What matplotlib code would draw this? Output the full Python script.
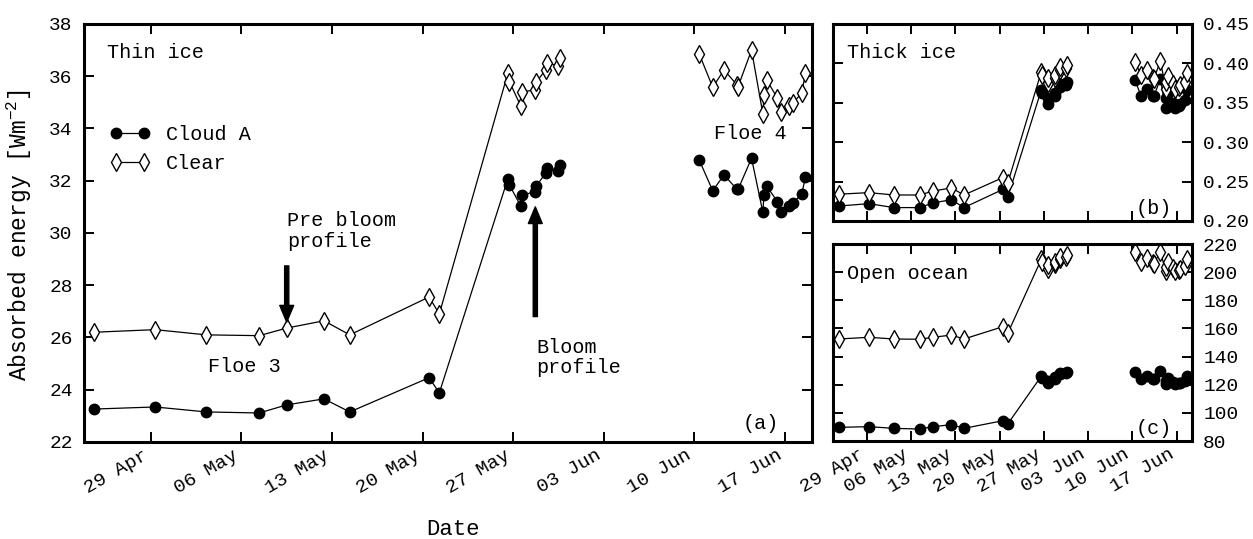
import matplotlib
matplotlib.use("Agg")
import matplotlib.pyplot as plt
import matplotlib.dates as mdates
import matplotlib.ticker as mticker
import pandas as pd

plt.rcParams['font.family'] = ['Liberation Mono', 'DejaVu Sans']
plt.rcParams['mathtext.default'] = 'regular'

# ---------------- data ----------------
dates_f3 = ['2015-04-24 14:00', '2015-04-29 08:00', '2015-05-03 07:00', '2015-05-07 09:00',
            '2015-05-09 12:00', '2015-05-12 09:00', '2015-05-14 09:00', '2015-05-20 12:00',
            '2015-05-21 07:00',
            '2015-05-26 14:00', '2015-05-26 17:00', '2015-05-27 14:00', '2015-05-27 17:00',
            '2015-05-28 17:00', '2015-05-28 19:00', '2015-05-29 12:00', '2015-05-29 14:00',
            '2015-05-30 12:00', '2015-05-30 14:00']
dates_f4 = ['2015-06-10 09:00', '2015-06-11 10:00', '2015-06-12 07:00', '2015-06-13 07:00',
            '2015-06-13 09:00', '2015-06-14 10:00', '2015-06-15 07:00', '2015-06-15 09:00',
            '2015-06-15 14:00', '2015-06-16 10:00', '2015-06-16 17:00', '2015-06-17 07:00',
            '2015-06-17 14:00', '2015-06-18 07:00', '2015-06-18 14:00']

thin_cloud_f3 = [23.26, 23.34, 23.15, 23.11, 23.42, 23.65, 23.15, 24.46, 23.88,
                 32.07, 31.84, 31.03, 31.45, 31.58, 31.81, 32.28, 32.49, 32.38, 32.61]
thin_clear_f3 = [26.20, 26.30, 26.10, 26.07, 26.36, 26.64, 26.10, 27.55, 26.90,
                 36.11, 35.79, 34.86, 35.41, 35.47, 35.78, 36.24, 36.52, 36.39, 36.69]
thin_cloud_f4 = [32.79, 31.62, 32.22, 31.67, 31.67, 32.86, 30.79, 31.45, 31.80, 31.20,
                 30.82, 31.03, 31.14, 31.48, 32.15]
thin_clear_f4 = [36.85, 35.58, 36.24, 35.67, 35.60, 37.00, 34.56, 35.28, 35.86, 35.16,
                 34.62, 34.87, 34.96, 35.35, 36.11]

thick_cloud_f3 = [0.219, 0.222, 0.217, 0.217, 0.223, 0.227, 0.217, 0.240, 0.230,
                  0.366, 0.362, 0.349, 0.356, 0.358, 0.362, 0.370, 0.374, 0.372, 0.376]
thick_clear_f3 = [0.234, 0.236, 0.233, 0.233, 0.238, 0.242, 0.233, 0.255, 0.248,
                  0.389, 0.385, 0.375, 0.381, 0.382, 0.385, 0.392, 0.396, 0.394, 0.398]
thick_cloud_f4 = [0.379, 0.358, 0.368, 0.358, 0.358, 0.380, 0.343, 0.356, 0.362, 0.350,
                  0.343, 0.346, 0.348, 0.354, 0.366]
thick_clear_f4 = [0.402, 0.385, 0.392, 0.381, 0.380, 0.403, 0.368, 0.376, 0.384, 0.374,
                  0.367, 0.370, 0.372, 0.377, 0.388]

ocean_cloud_f3 = [89.7, 90.2, 89.0, 88.5, 90.2, 91.6, 89.0, 94.4, 92.1,
                  126.0, 125.0, 121.0, 123.0, 124.0, 125.5, 127.5, 128.5, 128.0, 129.0]
ocean_clear_f3 = [152.5, 153.7, 152.5, 152.3, 153.7, 155.3, 152.5, 161.2, 156.5,
                  209.0, 207.0, 202.0, 205.0, 205.5, 207.0, 209.5, 211.0, 210.5, 212.0]
ocean_cloud_f4 = [129.0, 124.0, 126.5, 124.0, 124.0, 130.0, 120.5, 123.0, 125.0, 122.0,
                  120.5, 121.0, 121.5, 123.0, 126.0]
ocean_clear_f4 = [214.0, 207.0, 210.0, 206.5, 206.0, 214.5, 200.5, 204.0, 207.5, 203.0,
                  200.5, 201.5, 202.0, 204.5, 209.0]

tick_dates = ['2015-04-29', '2015-05-06', '2015-05-13', '2015-05-20',
              '2015-05-27', '2015-06-03', '2015-06-10', '2015-06-17']
pre_bloom_date = '2015-05-09 12:00'
bloom_date = '2015-05-28 17:00'

d3 = pd.to_datetime(dates_f3)
d4 = pd.to_datetime(dates_f4)
ticks = pd.to_datetime(tick_dates)

# ---------------- figure ----------------
fig = plt.figure(figsize=(12.53, 5.39), dpi=100)
ax = fig.add_axes([0.0670, 0.180, 0.5810, 0.7755])
axb = fig.add_axes([0.6648, 0.590, 0.2865, 0.3655])
axc = fig.add_axes([0.6648, 0.1818, 0.2865, 0.3655])

cloud_kw = dict(color='black', lw=0.9, marker='o', ms=7.5, mfc='black', mec='black')
clear_kw = dict(color='black', lw=0.9, marker='d', ms=9, mfc='white', mec='black', mew=1.0)


def draw(a, cf3, clf3, cf4, clf4, label=False):
    a.plot(d3, cf3, label='Cloud A' if label else None, **cloud_kw)
    a.plot(d3, clf3, label='Clear' if label else None, **clear_kw)
    a.plot(d4, cf4, **cloud_kw)
    a.plot(d4, clf4, **clear_kw)


draw(ax, thin_cloud_f3, thin_clear_f3, thin_cloud_f4, thin_clear_f4, label=True)
draw(axb, thick_cloud_f3, thick_clear_f3, thick_cloud_f4, thick_clear_f4)
draw(axc, ocean_cloud_f3, ocean_clear_f3, ocean_cloud_f4, ocean_clear_f4)

fmt = mdates.DateFormatter('%d %b')
for a in (ax, axb, axc):
    a.set_xticks(ticks)
    a.xaxis.set_major_formatter(fmt)
    a.tick_params(direction='in', length=7, width=1.4, top=True, right=True,
                  labelsize=14)
    a.tick_params(axis='y', pad=8)
    for s in a.spines.values():
        s.set_linewidth(2.2)

ax.set_xlim(pd.Timestamp('2015-04-23 20:00'), pd.Timestamp('2015-06-19 02:00'))
for a in (axb, axc):
    a.set_xlim(pd.Timestamp('2015-04-23 16:00'), pd.Timestamp('2015-06-19 10:00'))

ax.set_ylim(22, 38)
ax.set_yticks(range(22, 39, 2))
axb.set_ylim(0.20, 0.45)
axb.set_yticks([0.20, 0.25, 0.30, 0.35, 0.40, 0.45])
axb.yaxis.set_major_formatter(mticker.FormatStrFormatter('%.2f'))
axc.set_ylim(80, 220)
axc.set_yticks(range(80, 221, 20))
for a in (axb, axc):
    a.tick_params(labelleft=False, labelright=True)
axb.tick_params(labelbottom=False)

for lab in ax.get_xticklabels() + axc.get_xticklabels():
    lab.set_rotation(30)
    lab.set_ha('right')

ax.set_ylabel('Absorbed energy [Wm$^{-2}$]', fontsize=16.5)
ax.yaxis.set_label_coords(-0.068, 0.495)
ax.set_xlabel('Date', fontsize=16)
ax.xaxis.set_label_coords(0.507, -0.185)

ax.legend(loc='upper left', bbox_to_anchor=(0.0355, 0.758), frameon=False, numpoints=2,
          fontsize=14.5, handlelength=2.0, handletextpad=0.8, labelspacing=0.5,
          borderaxespad=0, borderpad=0)

tfs = 14.5
ax.text(0.0316, 0.931, 'Thin ice', transform=ax.transAxes, fontsize=tfs, va='center')
ax.text(0.279, 0.505, 'Pre bloom\nprofile', transform=ax.transAxes, fontsize=tfs,
        va='center', linespacing=1.15)
ax.text(0.170, 0.180, 'Floe 3', transform=ax.transAxes, fontsize=tfs, va='center')
ax.text(0.6218, 0.202, 'Bloom\nprofile', transform=ax.transAxes, fontsize=tfs,
        va='center', linespacing=1.1)
ax.text(0.8654, 0.739, 'Floe 4', transform=ax.transAxes, fontsize=tfs, va='center')
ax.text(0.955, 0.045, '(a)', transform=ax.transAxes, fontsize=tfs, va='center', ha='right')

axb.text(0.038, 0.856, 'Thick ice', transform=axb.transAxes, fontsize=tfs, va='center')
axb.text(0.944, 0.064, '(b)', transform=axb.transAxes, fontsize=tfs, va='center', ha='right')
axc.text(0.038, 0.851, 'Open ocean', transform=axc.transAxes, fontsize=tfs, va='center')
axc.text(0.944, 0.064, '(c)', transform=axc.transAxes, fontsize=tfs, va='center', ha='right')

arrow_kw = dict(facecolor='black', edgecolor='black', width=3, headwidth=10,
                headlength=12, shrink=0)
ax.annotate('', xy=(pd.Timestamp(pre_bloom_date), 26.59),
            xytext=(pd.Timestamp(pre_bloom_date), 28.74), arrowprops=arrow_kw)
ax.annotate('', xy=(pd.Timestamp(bloom_date), 31.0),
            xytext=(pd.Timestamp(bloom_date), 26.8), arrowprops=arrow_kw)

fig.savefig('out.png', dpi=100)
